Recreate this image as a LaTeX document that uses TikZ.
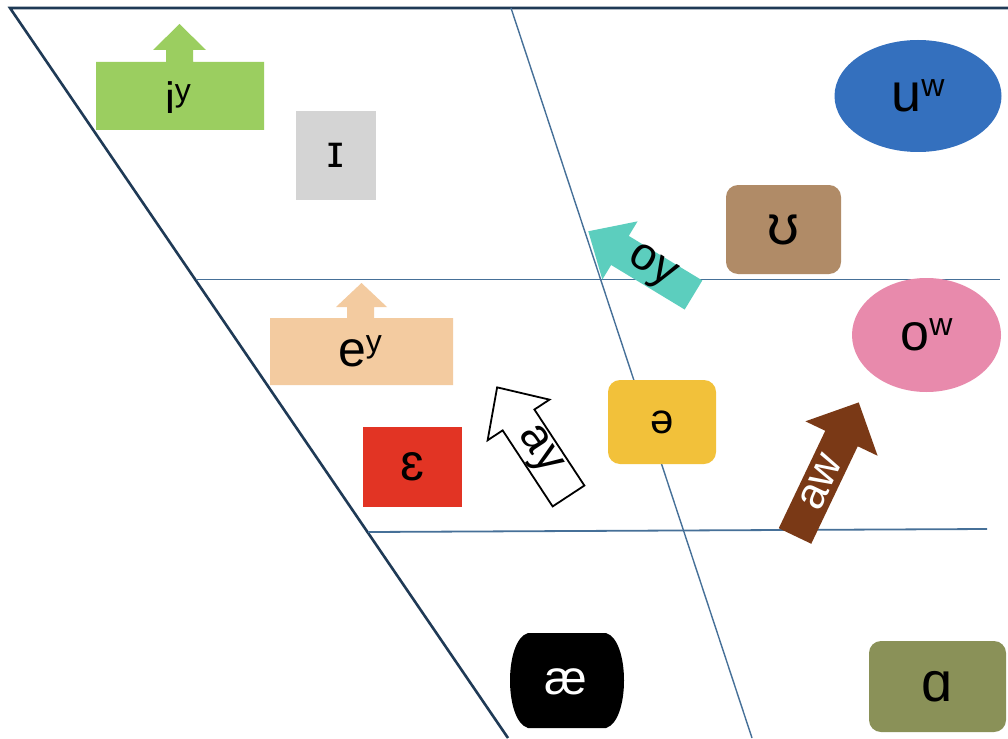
\documentclass[tikz,border=0pt]{standalone}
\usepackage{fontspec}
\setmainfont{Liberation Sans}
\usetikzlibrary{shapes.geometric}

\definecolor{framecol}{RGB}{31,58,86}
\definecolor{gridcol}{RGB}{70,112,152}
\definecolor{igreen}{RGB}{155,206,96}
\definecolor{ihgray}{RGB}{212,212,212}
\definecolor{ublue}{RGB}{52,112,190}
\definecolor{uhbrown}{RGB}{176,139,103}
\definecolor{oyteal}{RGB}{92,206,190}
\definecolor{opink}{RGB}{232,138,172}
\definecolor{epeach}{RGB}{243,203,160}
\definecolor{ehred}{RGB}{226,52,36}
\definecolor{schwayel}{RGB}{242,193,58}
\definecolor{awbrown}{RGB}{122,57,22}
\definecolor{aolive}{RGB}{138,145,88}

% raised off-glide letter
\newcommand\offglide[1]{\raisebox{0.28em}{\fontsize{32}{32}\selectfont #1}}

\begin{document}
\begin{tikzpicture}[x=1pt,y=-1pt,
  fs/.style={font=\fontsize{#1}{#1}\selectfont},
  lab/.style={inner sep=0pt, text=black},
  box/.style={inner sep=0pt, draw=none},
  rbox/.style={box, rounded corners=12},
  chartline/.style={draw=framecol, line width=2.6},
  gridline/.style={draw=gridcol, line width=1.8}]

\useasboundingbox (0,0) rectangle (1008,738);
\fill[white] (0,0) rectangle (1008,738);

% chart outline and grid
\coordinate (tl) at (10,8);
\coordinate (tr) at (1008,8);
\coordinate (bl) at (508,738);
\coordinate (mt) at (511,8);
\coordinate (mb) at (752,738);
\coordinate (h1l) at (196,279.5);
\coordinate (h1r) at (1000,279.5);
\coordinate (h2l) at (368,532);
\coordinate (h2r) at (987,529);

\draw[chartline] (tr) -- (tl) -- (bl);
\draw[gridline] (h1l) -- (h1r);
\draw[gridline] (h2l) -- (h2r);

% oy glide arrow (under the central line)
\begin{scope}[shift={(693.5,295)}, rotate=148.8]
  \fill[oyteal] (0,-17) -- (86,-17) -- (86,-34) -- (123,0) -- (86,34) -- (86,17) -- (0,17) -- cycle;
\end{scope}
\node[lab, fs=46, rotate=-31.2] (oy) at (651,268) {oy};

\draw[gridline, line width=1.4] (mt) -- (mb);

% iy callout
\fill[igreen] (96,62) -- (166,62) -- (166,50) -- (153,50) -- (179.5,24) -- (206,50) -- (193,50) -- (193,62)
  -- (264,62) -- (264,130) -- (96,130) -- cycle;
\node[lab, fs=44] (iy) at (178,98) {i\offglide{y}};

% lax high front vowel
\node[box, fill=ihgray, minimum width=80, minimum height=89, lab, fs=46] (ih) at (336,155.5) {ɪ};

% uw
\node[ellipse, fill=ublue, minimum width=167, minimum height=112, lab, fs=54] (uw) at (918,96) {u\offglide{w}};

% lax high back vowel
\node[rbox, fill=uhbrown, minimum width=115, minimum height=89, lab, fs=56] (uh) at (783.5,229.5) {ʊ};

% ow
\node[ellipse, fill=opink, minimum width=149, minimum height=114, lab, fs=52] (ow) at (926.5,335) {o\offglide{w}};

% ey callout
\fill[epeach] (270,318) -- (347,318) -- (347,307) -- (336,307) -- (361.5,283) -- (387,307) -- (374,307) -- (374,318)
  -- (453,318) -- (453,385) -- (270,385) -- cycle;
\node[lab, fs=50] (ey) at (360,351) {e\offglide{y}};

% lax mid front vowel
\node[box, fill=ehred, minimum width=99, minimum height=80, lab, fs=52] (eh) at (412.5,467) {ɛ};

% ay glide arrow
\begin{scope}[shift={(568.5,496)}, rotate=123.3]
  \filldraw[fill=white, draw=black, line width=1.8, line join=miter]
    (0,-19) -- (91,-19) -- (91,-37) -- (130,0) -- (91,37) -- (91,19) -- (0,19) -- cycle;
\end{scope}
\node[lab, fs=46, rotate=-56.7] (ay) at (538,451) {ay};

% schwa
\node[rbox, fill=schwayel, minimum width=108, minimum height=84, lab, fs=42] (schwa) at (662,422) {ə};

% aw glide arrow
\begin{scope}[shift={(795,536)}, rotate=64.5]
  \fill[awbrown] (0,-18) -- (108,-18) -- (108,-40) -- (148,0) -- (108,40) -- (108,18) -- (0,18) -- cycle;
\end{scope}
\node[lab, fs=44, rotate=64.5, text=white] (aw) at (821,482) {aw};

% low front vowel, barrel shaped
\fill[black] (528,633) -- (606,633) .. controls (630,640) and (630,721) .. (606,728)
  -- (528,728) .. controls (504,721) and (504,640) .. (528,633) -- cycle;
\node[lab, fs=48, text=white] (ae) at (566,682) {æ};

% low back vowel
\node[rbox, fill=aolive, minimum width=137, minimum height=91, lab, fs=56] (aa) at (937.5,686.5) {ɑ};

\end{tikzpicture}
\end{document}
